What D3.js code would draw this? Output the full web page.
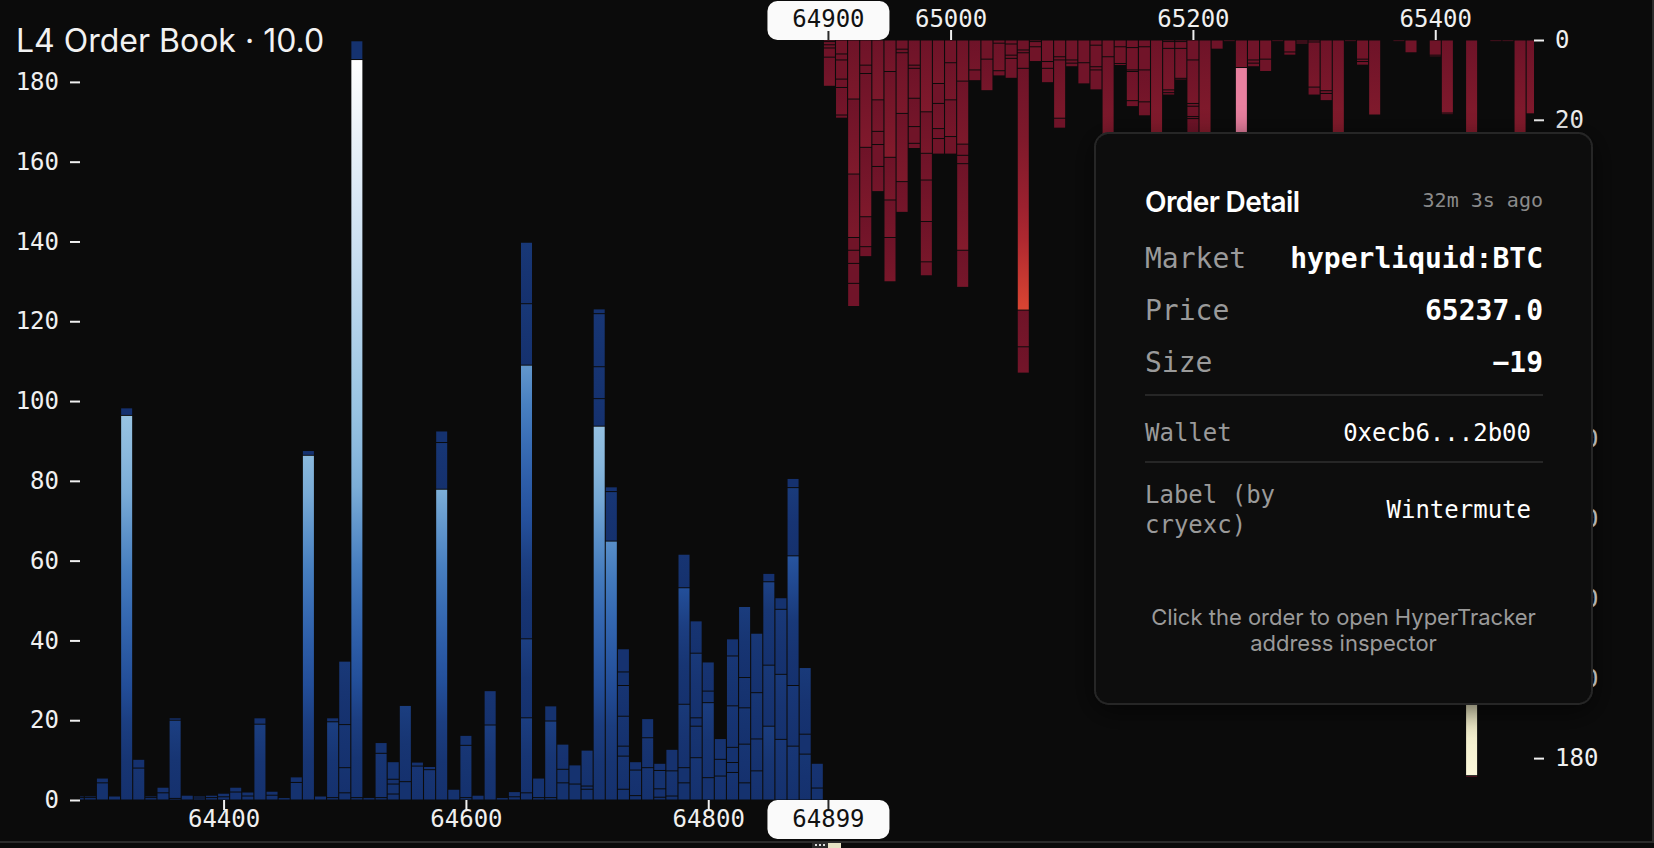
<!DOCTYPE html>
<html><head><meta charset="utf-8">
<script src="https://cdn.jsdelivr.net/npm/d3@7"></script>
<style>
html,body{margin:0;padding:0;background:#0b0b0b;overflow:hidden}
svg{display:block}
</style></head><body>
<svg id="chart" width="1654" height="848"></svg>
<script>
// ---------------- data ----------------
const chartTitle = "L4 Order Book · 10.0";

const bidPrices = [64280,64290,64300,64310,64320,64330,64340,64350,64360,64370,64380,64390,64400,64410,64420,64430,64440,64450,64460,64470,64480,64490,64500,64510,64520,64530,64540,64550,64560,64570,64580,64590,64600,64610,64620,64630,64640,64650,64660,64670,64680,64690,64700,64710,64720,64730,64740,64750,64760,64770,64780,64790,64800,64810,64820,64830,64840,64850,64860,64870,64880,64890];
// individual order sizes per level, from the axis outward
const bidOrders = [
 [0.6,0.4],[0.6,0.4],[4.3,1.2],[1.0],[96.4,1.9],[8.0,2.2],[0.6,0.4],[1.8,1.4],[0.4,19.6,0.6],[1.2],
 [0.5,0.5],[0.6,0.6],[0.8,0.9],[2.0,1.2],[1.0,1.0],[19.0,1.6],[1.2,1.0],[0.6],[4.4,1.4],[86.4,1.2],
 [1.0],[0.6,19.0,1.0],[1.8,6.3,10.8,15.9],[0.6,185.0,4.7],[0.6],[0.6,11.1,2.7],[1.5,2.5,1.2,4.4],[4.6,19.1],[8.5,1.0],[7.6,0.8],
 [77.9,11.7,2.9],[2.7],[0.6,13.1,2.5],[1.2],[18.8,8.6],[0.6],[0.8,1.3],[1.8,18.8,19.8,68.6,15.4,15.4],[0.6,4.9],[0.6,19.2,3.8],
 [4.3,3.4,6.3],[4.0,4.8],[2.7,0.8,9.0],[93.7,6.9,8.0,13.3,1.2],[64.9,12.4,1.2],[2.7,8.3,2.5,7.5,7.7,3.4,5.8],[1.1,6.4,2.1],[8.1,7.5,4.8],[0.7,2.1,4.6,1.8],[1.0,6.3,5.4],
 [4.3,3.8,15.9,29.2,8.4],[10.6,7.9,2.1,16.2,8.1],[5.6,18.8,2.9,7.3],[6.0,4.2,5.2],[6.9,2.5,3.8,10.4,12.5,4.3],[4.3,9.7,9.1,7.6,17.8],[7.3,8.0,11.6,14.9],[18.5,15.3,20.9,2.1],[15.2,16.3,16.3,2.9],[13.5,15.2,32.5,17.1,2.3],
 [11.5,5.0,16.7],[3.0,6.2]
];

const askPrices = [64900,64910,64920,64930,64940,64950,64960,64970,64980,64990,65000,65010,65020,65030,65040,65050,65060,65070,65080,65090,65100,65110,65120,65130,65140,65150,65160,65170,65180,65190,65200,65210,65220,65230,65240,65250,65260,65270,65280,65290,65300,65310,65320,65330,65340,65350,65360,65370,65380,65390,65400,65410,65420,65430,65440,65450,65460,65470,65480];
const askOrders = [
 [0.4,0.8,0.8,2.3,7.3],[3.5,1.5,4.8,2.1,6.9,0.8],[14.8,18.8,15.9,3.2,3.3,5.0,5.8],[6.3,2.1,18.5,17.4,7.5,2.5],[15.0,7.9,3.3,5.5,6.3],
 [7.9,21.5,10.7,9.4,11.1],[2.3,0.9,15.2,17.1,7.7],[6.3,0.8,7.5,7.1,4.2,1.3],[18.0,10.4,6.7,10.4,10.1,3.5],[10.9,5.0,6.3,2.5,3.9],
 [5.7,9.3,9.2,4.4],[10.3,15.8,2.8,2.1,21.7,9.3],[7.5,2.7],[4.8,7.9],[0.8,6.9,1.3],
 [1.0,2.8,0.8,5.0],[2.5,0.7,3.9,60.6,9.2,6.6],[0.4,1.3,3.7],[5.4,1.7,3.6],[4.2,0.8,14.6,2.5],
 [5.0,0.8,0.9],[5.7,5.3],[1.3,5.4,0.8,5.0],[4.2,36.0],[1.7,4.2,0.5],
 [1.9,5.6,0.4,7.3,1.5],[1.7,5.8,8.0,3.5],[44.0],[0.4,1.7,10.4,0.7,0.6],[0.4,1.7,7.5,0.3],
 [5.0,10.9,0.7,2.6,0.5,12.0],[40.0],[2.3],[0.4],[6.9,19.0],
 [5.0,0.8,0.9],[4.8,3.1],[0.4],[3.0,0.8],[0.5,0.5],
 [0.5,11.3,2.0],[12.7,0.7,1.8],[42.0],[0.2],[4.8,0.6,0.9],
 [18.8],[],[0.4],[3.2],[],
 [3.8,0.4],[18.3,0.4],[],[24.0,160.4,0.4],[],
 [0.2],[0.2],[36.0],[18.5]
];

const sizeTicks = [0,20,40,60,80,100,120,140,160,180];
const bidPriceTicks = [64400,64600,64800];
const askPriceTicks = [65000,65200,65400];

const cursorPrice = 64899.2;
const cursorLabelBottom = "64899";
const cursorLabelTop = "64900";

const hoveredOrder = {price: 65240, index: 1};

const tipTitle = "Order Detail";
const tipAge = "32m 3s ago";
const tipRows = [["Market","hyperliquid:BTC"],["Price","65237.0"],["Size","\u221219"]];
const tipWallet = ["Wallet","0xecb6...2b00"];
const tipLabel = [["Label (by","cryexc)"],"Wintermute"];
const tipFooter = ["Click the order to open HyperTracker","address inspector"];

// colour ramps (by distance within an order)
const bidRampStops = [0,15,30,45,60,80,100,140,185];
const bidRampColors = ["#15316e","#183776","#24509c","#3366b0","#4a82c2","#82b3da","#9cc6e4","#cfe1f2","#ffffff"];
const askRampStops = [0,20,40,60,90,130,165];
const askRampColors = ["#6e1328","#811a2c","#a62430","#da4432","#ee7a40","#e0dab0","#fffde2"];
const hoverColor = "#e8809f";

// ---------------- layout ----------------
const W = 1654, H = 848;
const pL = 80, pR = 1534, pT = 40, pB = 800;
const MONO = "'DejaVu Sans Mono', 'Liberation Mono', monospace";
const SANS = "Inter, 'Noto Sans', sans-serif";

const svg = d3.select("#chart");
svg.append("rect").attr("width", W).attr("height", H).attr("fill", "#0b0b0b");
const defs = svg.append("defs");

const x = d3.scaleLinear().domain([64281.5, 65481.5]).range([pL, pR]);
const yBid = d3.scaleLinear().domain([0, 190.5]).range([pB, pT]);
const yAsk = d3.scaleLinear().domain([0, 190.5]).range([pT, pB]);
const bidRamp = d3.scaleLinear().domain(bidRampStops).range(bidRampColors).clamp(true);
const askRamp = d3.scaleLinear().domain(askRampStops).range(askRampColors).clamp(true);

defs.append("clipPath").attr("id", "plotclip").append("rect")
  .attr("x", pL).attr("y", pT).attr("width", pR - pL).attr("height", pB - pT);

function segments(prices, orders) {
  const out = [];
  prices.forEach((p, i) => {
    let cum = 0;
    orders[i].forEach((s, j) => {
      out.push({price: p, j, start: cum, end: cum + s, size: s});
      cum += s;
    });
  });
  return out;
}
const bidSegs = segments(bidPrices, bidOrders);
const askSegs = segments(askPrices, askOrders);

let gid = 0;
function gradientFor(seg, ramp, upward) {
  if (seg.size < 6) return ramp(seg.size / 2);
  const id = "g" + (gid++);
  const g = defs.append("linearGradient").attr("id", id)
    .attr("x1", 0).attr("x2", 0).attr("y1", upward ? 1 : 0).attr("y2", upward ? 0 : 1);
  const n = Math.max(2, Math.ceil(seg.size / 10));
  for (let k = 0; k <= n; k++) {
    g.append("stop").attr("offset", k / n).attr("stop-color", ramp(seg.size * k / n));
  }
  return "url(#" + id + ")";
}

const bw = x(64290) - x(64280) - 1.1;
const plot = svg.append("g").attr("clip-path", "url(#plotclip)");

plot.append("g").selectAll("rect").data(bidSegs).join("rect")
  .attr("x", d => x(d.price) - bw / 2)
  .attr("width", bw)
  .attr("y", d => yBid(d.end) + 0.5)
  .attr("height", d => Math.max(0.6, yBid(d.start) - yBid(d.end) - 1))
  .attr("fill", d => gradientFor(d, bidRamp, true));

plot.append("g").selectAll("rect").data(askSegs).join("rect")
  .attr("x", d => x(d.price) - bw / 2)
  .attr("width", bw)
  .attr("y", d => yAsk(d.start) + 0.5)
  .attr("height", d => Math.max(0.6, yAsk(d.end) - yAsk(d.start) - 1))
  .attr("fill", d => (d.price === hoveredOrder.price && d.j === hoveredOrder.index) ? hoverColor : gradientFor(d, askRamp, false));

// ---------------- axes ----------------
function styleAxis(g) {
  g.select(".domain").remove();
  g.selectAll("line").attr("stroke", "#f0f0f0").attr("stroke-width", 2);
  g.selectAll("text").attr("fill", "#f0f0f0").style("font-family", MONO).style("font-size", "24px");
}
svg.append("g").attr("transform", `translate(${pL},0)`)
  .call(d3.axisLeft(yBid).tickValues(sizeTicks).tickSize(10).tickPadding(11).tickFormat(d3.format("d")))
  .call(styleAxis);
svg.append("g").attr("transform", `translate(${pR},0)`)
  .call(d3.axisRight(yAsk).tickValues(sizeTicks).tickSize(10).tickPadding(11).tickFormat(d3.format("d")))
  .call(styleAxis);
svg.append("g").attr("transform", `translate(0,${pB})`)
  .call(d3.axisBottom(x).tickValues(bidPriceTicks).tickSize(10).tickPadding(0).tickFormat(d3.format("d")))
  .call(styleAxis);
svg.append("g").attr("transform", `translate(0,${pT})`)
  .call(d3.axisTop(x).tickValues(askPriceTicks).tickSize(10).tickPadding(3).tickFormat(d3.format("d")))
  .call(styleAxis);

// cursor price badges
function badge(cx, y0, label, tickY1, tickY2, baseline) {
  const g = svg.append("g");
  g.append("rect").attr("x", cx - 61).attr("y", y0).attr("width", 122).attr("height", 39)
    .attr("rx", 10).attr("fill", "#fafafa");
  g.append("line").attr("x1", cx).attr("x2", cx).attr("y1", tickY1).attr("y2", tickY2)
    .attr("stroke", "#2a2a2a").attr("stroke-width", 2);
  g.append("text").attr("x", cx).attr("y", baseline).attr("text-anchor", "middle")
    .attr("fill", "#111").style("font-family", MONO).style("font-size", "24px").text(label);
}
badge(x(cursorPrice), 1, cursorLabelTop, 31, 40, 27);
badge(x(cursorPrice), 800, cursorLabelBottom, 800, 809, 827);

// title
svg.append("text").attr("x", 16).attr("y", 52).attr("fill", "#f2f2f2")
  .style("font-family", SANS).style("font-size", "32px").style("font-weight", 400).text(chartTitle);

// ---------------- tooltip ----------------
const flt = defs.append("filter").attr("id", "shadow").attr("x", -0.2).attr("y", -0.2).attr("width", 1.4).attr("height", 1.4);
flt.append("feDropShadow").attr("dx", 0).attr("dy", 6).attr("stdDeviation", 14).attr("flood-color", "#000").attr("flood-opacity", 0.6);

const tx0 = 1095, ty0 = 133, tw = 497, th = 571;
const tip = svg.append("g");
tip.append("rect").attr("x", tx0).attr("y", ty0).attr("width", tw).attr("height", th).attr("rx", 14)
  .attr("fill", "#0d0d0d").attr("stroke", "#262626").attr("stroke-width", 2)
  .attr("filter", "url(#shadow)");

const padL = 1145, padR = 1543, valR2 = 1531;
tip.append("text").attr("x", padL).attr("y", 212).attr("fill", "#ffffff")
  .style("font-family", SANS).style("font-size", "28px").style("font-weight", 600).style("letter-spacing", "-0.6px").text(tipTitle);
tip.append("text").attr("x", padR).attr("y", 207).attr("text-anchor", "end").attr("fill", "#8a8a8a")
  .style("font-family", MONO).style("font-size", "20px").text(tipAge);

const rowBase = [268, 320, 372];
tipRows.forEach((r, i) => {
  tip.append("text").attr("x", padL).attr("y", rowBase[i]).attr("fill", "#9a9a9a")
    .style("font-family", MONO).style("font-size", "28px").text(r[0]);
  tip.append("text").attr("x", padR).attr("y", rowBase[i]).attr("text-anchor", "end").attr("fill", "#ffffff")
    .style("font-family", MONO).style("font-size", "28px").style("font-weight", 700).text(r[1]);
});
[395, 462].forEach(yy => tip.append("line").attr("x1", padL).attr("x2", padR).attr("y1", yy).attr("y2", yy)
  .attr("stroke", "#262626").attr("stroke-width", 2));

tip.append("text").attr("x", padL).attr("y", 441).attr("fill", "#9a9a9a")
  .style("font-family", MONO).style("font-size", "24px").text(tipWallet[0]);
tip.append("text").attr("x", valR2).attr("y", 441).attr("text-anchor", "end").attr("fill", "#ffffff")
  .style("font-family", MONO).style("font-size", "24px").text(tipWallet[1]);
tipLabel[0].forEach((t, i) => tip.append("text").attr("x", padL).attr("y", 503 + i * 30).attr("fill", "#9a9a9a")
  .style("font-family", MONO).style("font-size", "24px").text(t));
tip.append("text").attr("x", valR2).attr("y", 518).attr("text-anchor", "end").attr("fill", "#ffffff")
  .style("font-family", MONO).style("font-size", "24px").text(tipLabel[1]);
tipFooter.forEach((t, i) => tip.append("text").attr("x", tx0 + tw / 2).attr("y", 625 + i * 26)
  .attr("text-anchor", "middle").attr("fill", "#9a9a9a")
  .style("font-family", SANS).style("font-size", "22px").text(t));

// ---------------- frame ----------------
svg.append("rect").attr("x", 0).attr("y", 841).attr("width", W).attr("height", 2).attr("fill", "#2c2c2c");
svg.append("rect").attr("x", 1652).attr("y", 0).attr("width", 2).attr("height", 842).attr("fill", "#2c2c2c");
svg.append("rect").attr("x", 812).attr("y", 843).attr("width", 16).attr("height", 5).attr("fill", "#2a2a2a");
svg.append("rect").attr("x", 828).attr("y", 843).attr("width", 13).attr("height", 5).attr("fill", "#e6e2c4");
[815, 819, 823].forEach(dx => svg.append("rect").attr("x", dx).attr("y", 844).attr("width", 2).attr("height", 2).attr("fill", "#ddd"));
</script>
</body></html>
